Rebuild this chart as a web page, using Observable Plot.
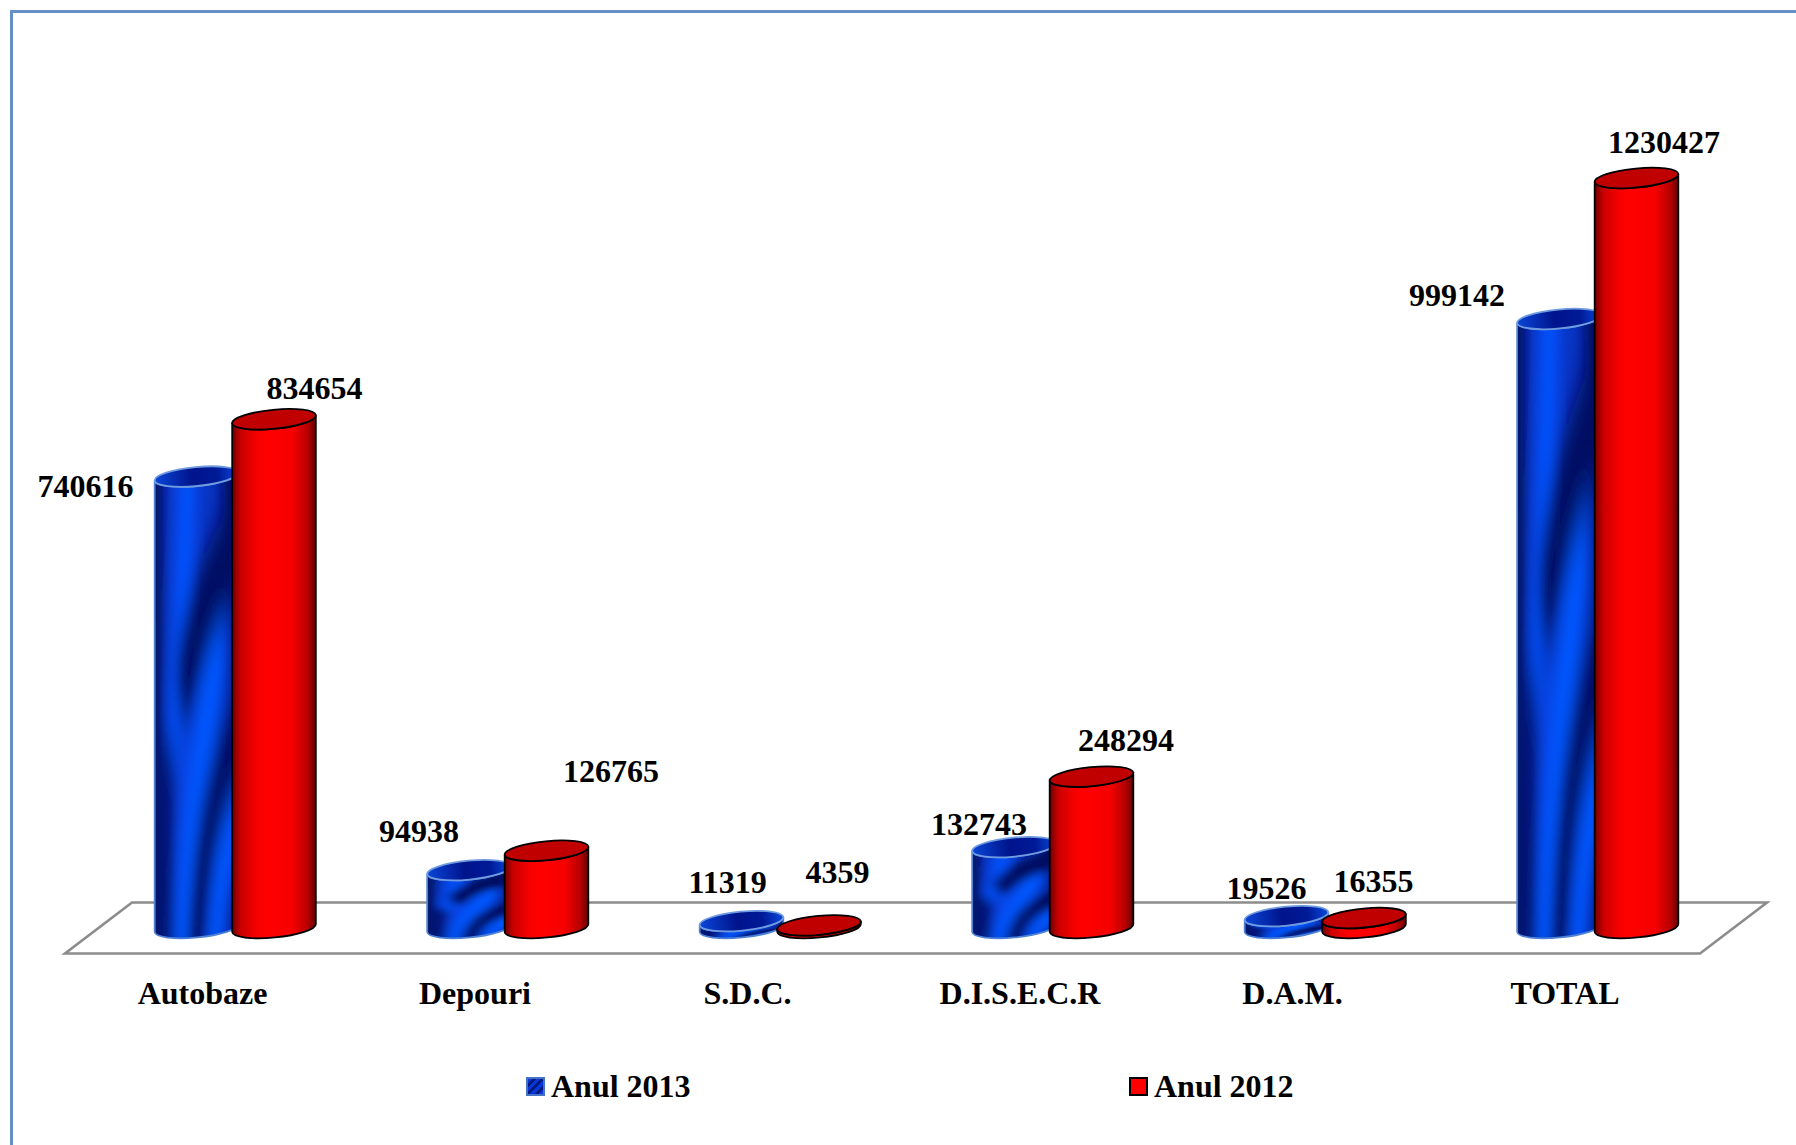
<!DOCTYPE html>
<html>
<head>
<meta charset="utf-8">
<script src="https://cdn.jsdelivr.net/npm/d3@7"></script>
<script src="https://cdn.jsdelivr.net/npm/@observablehq/plot@0.6"></script>
<style>
  html, body { margin: 0; padding: 0; background: #fff; }
  #page { position: relative; width: 1796px; height: 1145px; overflow: hidden; background: #fff;
          font: bold 32px "Liberation Serif", serif; color: #000; }
  #page svg.chart { position: absolute; left: 0; top: 0; }
  .frame { position: absolute; background: #6490c6; }
  .swatch { position: absolute; box-sizing: border-box; width: 19px; height: 19px; top: 1077px; }
  .legend-text { position: absolute; top: 1067px; line-height: 38px; white-space: nowrap; }
</style>
</head>
<body>
<div id="page">
  <div class="frame" style="left:10px;top:10px;width:1786px;height:3px"></div>
  <div class="frame" style="left:10px;top:10px;width:3px;height:1135px"></div>
  <div id="chart"></div>
  <div class="swatch" style="left:526px;border:2px solid #4472c4;background:repeating-linear-gradient(135deg,#0a35d8 0 3px,#001a80 3px 6px)"></div>
  <div class="legend-text" style="left:551px">Anul 2013</div>
  <div class="swatch" style="left:1129px;border:2px solid #000;background:#ff0000"></div>
  <div class="legend-text" style="left:1154px">Anul 2012</div>
</div>
<script>
// ---- data ----
const categories = ["Autobaze", "Depouri", "S.D.C.", "D.I.S.E.C.R", "D.A.M.", "TOTAL"];
const anul2013 = [740616, 94938, 11319, 132743, 19526, 999142];
const anul2012 = [834654, 126765, 4359, 248294, 16355, 1230427];

// ---- label nudges (layout only), as in the reference ----
const offset2013 = [[-111, 10], [-50, -39], [-14, -39], [-35, -23], [-20, -28], [-102, -24]];
const offset2012 = [[40, -31], [64, -79], [18, -53], [34, -36], [9, -37], [27, -36]];

const SERIF = "'Liberation Serif', 'Times New Roman', serif";
const RX = 42, RY = 9.5, ROT = -5.5;
const rad = ROT * Math.PI / 180;
const ex = RX * Math.cos(rad), ey = RX * Math.sin(rad);

function cylinder(fillBody, fillTop, edge, edgeWidth, rimColor) {
  return (index, scales, values, dimensions, context, next) => {
    const g = next(index, scales, values, dimensions, context);
    d3.select(g).selectAll("rect").each(function () {
      const r = d3.select(this);
      const cx = +r.attr("x") + +r.attr("width") / 2;
      const yTop = +r.attr("y");
      const yBot = yTop + +r.attr("height");
      const holder = d3.select(this.parentNode).insert("g", () => this);
      holder.append("path")
        .attr("d", `M${cx - ex},${yTop - ey}
                    A${RX},${RY} ${ROT} 0 0 ${cx + ex},${yTop + ey}
                    L${cx + ex},${yBot + ey}
                    A${RX},${RY} ${ROT} 0 1 ${cx - ex},${yBot - ey}Z`)
        .attr("fill", fillBody).attr("stroke", edge).attr("stroke-width", edgeWidth)
        .attr("stroke-linejoin", "round");
      holder.append("ellipse")
        .attr("cx", cx).attr("cy", yTop).attr("rx", RX).attr("ry", RY)
        .attr("transform", `rotate(${ROT} ${cx} ${yTop})`)
        .attr("fill", fillTop).attr("stroke", rimColor).attr("stroke-width", edgeWidth);
      r.remove();
    });
    return g;
  };
}

function floorMark(index, scales, values, dimensions, context) {
  const first = scales.x(categories[0]);
  const base = scales.y(0);
  const xF0 = first - 128, xF1 = first + 1507, skew = 67, half = 25.5;
  return d3.create("svg:path")
    .attr("d", `M${xF0},${base + half}L${xF1},${base + half}L${xF1 + skew},${base - half}L${xF0 + skew},${base - half}Z`)
    .attr("fill", "#fff").attr("stroke", "#8c8c8c").attr("stroke-width", 2.6)
    .node();
}

const rows = (vals) => vals.map((value, i) => ({category: categories[i], value}));
const labelMarks = (vals, shift, offsets) => vals.map((value, i) =>
  Plot.text([{category: categories[i], value}], {
    x: "category", y: "value", text: (d) => String(d.value),
    dx: shift + offsets[i][0], dy: offsets[i][1],
    fontSize: 32, fontWeight: "bold", fill: "#000"
  }));

const chart = Plot.plot({
  width: 1796, height: 1040,
  marginTop: 0, marginRight: 0, marginBottom: 112, marginLeft: 0,
  className: "chart",
  style: {fontFamily: SERIF, fontWeight: "bold", fontSize: "32px", background: "transparent", color: "#000"},
  x: {type: "band", domain: categories, range: [193, 1639.5], paddingInner: 0.6917, paddingOuter: 0, round: false, label: null},
  y: {type: "linear", domain: [0, 1230427], range: [928, 178], axis: null, label: null},
  marks: [
    floorMark,
    Plot.axisX({tickSize: 0, tickPadding: 53, dx: -33, fontSize: 32, fontWeight: "bold", fontVariant: "normal", label: null}),
    Plot.barY(rows(anul2013), {x: "category", y: "value", dx: -38.5, fill: "#0a35d8",
      render: cylinder("url(#blueSkin)", "url(#blueTop)", "#4f82d6", 1.8, "#6f9be0")}),
    Plot.barY(rows(anul2012), {x: "category", y: "value", dx: 39, fill: "#ff0000",
      render: cylinder("url(#redSkin)", "#c00000", "#000", 1.8, "#000")}),
    ...labelMarks(anul2013, -39, offset2013),
    ...labelMarks(anul2012, 39, offset2012)
  ]
});

const defs = d3.select(chart).insert("defs", ":first-child");

const redSkin = defs.append("linearGradient").attr("id", "redSkin");
[[0, "#6e0000"], [0.1, "#c80000"], [0.3, "#f80000"], [0.42, "#ff0000"], [0.72, "#f60000"], [0.9, "#b80000"], [1, "#650000"]]
  .forEach(([o, c]) => redSkin.append("stop").attr("offset", o).attr("stop-color", c));

const blueTop = defs.append("linearGradient").attr("id", "blueTop");
[[0, "#0a46d8"], [0.45, "#00148c"], [0.75, "#001a96"], [1, "#0a48de"]]
  .forEach(([o, c]) => blueTop.append("stop").attr("offset", o).attr("stop-color", c));

const blueBase = defs.append("linearGradient").attr("id", "blueBase");
[[0, "#02166e"], [0.1, "#0a35c4"], [0.4, "#0a3fdc"], [0.8, "#062eb4"], [1, "#041e8a"]]
  .forEach(([o, c]) => blueBase.append("stop").attr("offset", o).attr("stop-color", c));

const blur = defs.append("filter").attr("id", "soft")
  .attr("filterUnits", "userSpaceOnUse").attr("x", -0.5).attr("y", -0.5).attr("width", 2).attr("height", 2);
blur.append("feGaussianBlur").attr("stdDeviation", "0.07 0.045");

const pattern = defs.append("pattern").attr("id", "blueSkin")
  .attr("patternUnits", "objectBoundingBox").attr("patternContentUnits", "objectBoundingBox")
  .attr("width", 1).attr("height", 1);
pattern.append("rect").attr("width", 1).attr("height", 1).attr("fill", "url(#blueBase)");
const waves = pattern.append("g").attr("fill", "none").attr("stroke-linecap", "round")
  .attr("filter", "url(#soft)");
[
  ["M.4,-.1C.38,.15 .3,.35 .24,.56", "#0052ff", 0.16],
  ["M.75,.38C.68,.5 .4,.68 .33,1.1", "#0056ff", 0.2],
  ["M.72,1.1C.72,.92 .8,.8 1.1,.72", "#0056ff", 0.16],
  ["M1.1,.12C.8,.2 .55,.28 .36,.44", "#000c60", 0.2],
  ["M1.1,.55C.8,.64 .55,.72 .47,1.1", "#000e64", 0.18],
  ["M.05,-.1L.03,1.1", "#000c5c", 0.1],
  ["M.17,.62C.15,.8 .15,.92 .17,1.1", "#001272", 0.12],
  ["M.9,-.1C.9,.02 .92,.08 1.1,.16", "#000e64", 0.2]
].forEach(([d, c, w]) => waves.append("path").attr("d", d).attr("stroke", c).attr("stroke-width", w));

document.getElementById("chart").appendChild(chart);
</script>
</body>
</html>
